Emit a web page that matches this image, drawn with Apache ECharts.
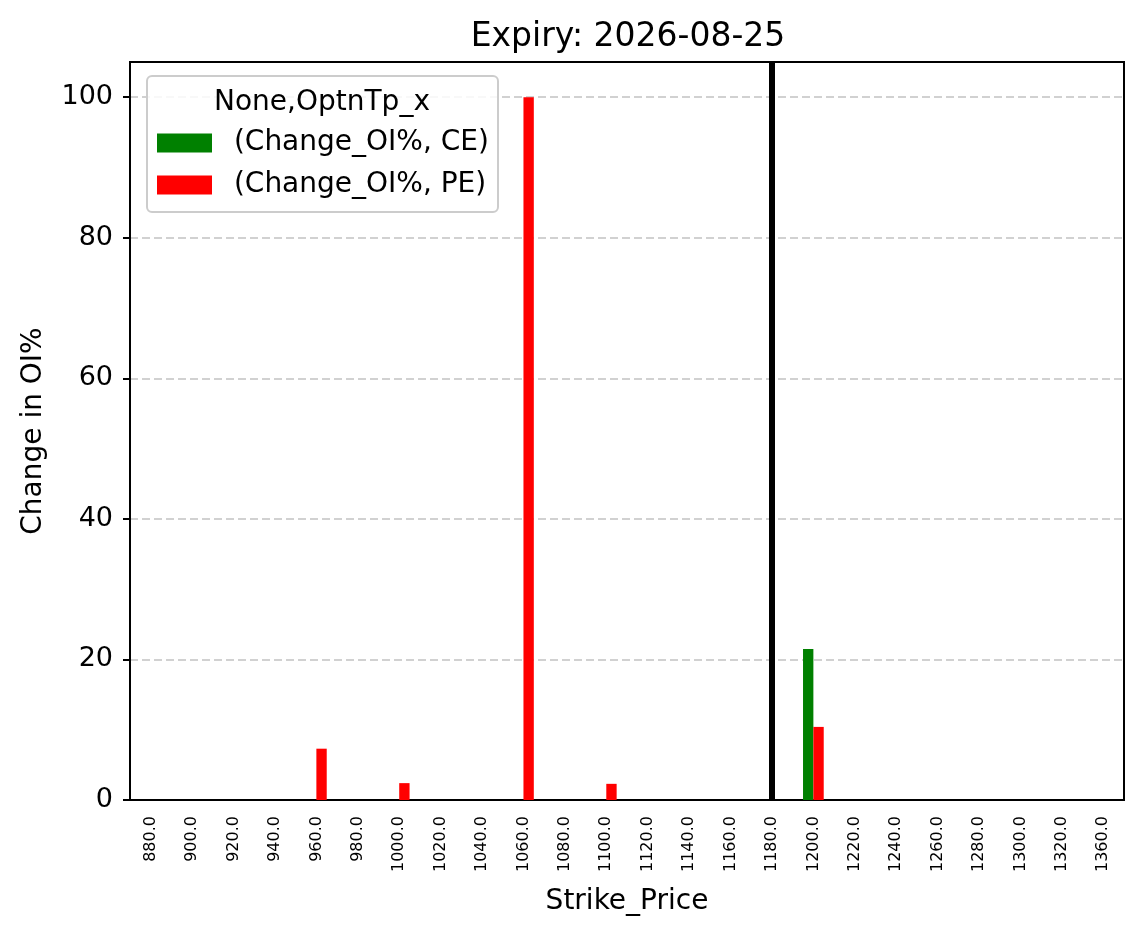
<!DOCTYPE html>
<html>
<head>
<meta charset="utf-8">
<title>Expiry: 2026-08-25</title>
<script src="https://cdn.jsdelivr.net/npm/echarts@6/dist/echarts.min.js"></script>
<style>
  html, body { margin: 0; padding: 0; background: #fff; }
  #chart { width: 1143px; height: 939px; }
</style>
</head>
<body>
<div id="chart"></div>
<script>
// strike prices on the x axis (1340 is not in the data)
var strikes = [880, 900, 920, 940, 960, 980, 1000, 1020, 1040, 1060, 1080, 1100,
               1120, 1140, 1160, 1180, 1200, 1220, 1240, 1260, 1280, 1300, 1320, 1360];
// Change_OI% per strike
var ceValues = [0, 0, 0, 0, 0, 0, 0, 0, 0, 0, 0, 0,
                0, 0, 0, 0, 21.5, 0, 0, 0, 0, 0, 0, 0];
var peValues = [0, 0, 0, 0, 7.3, 0, 2.4, 0, 0, 100, 0, 2.3,
                0, 0, 0, 0, 10.4, 0, 0, 0, 0, 0, 0, 0];
var yTicks = [0, 20, 40, 60, 80, 100];
var spotStrike = 1180;

var FONT = 'DejaVu Sans';
var categories = strikes.map(function (s) { return s.toFixed(1); });

var chart = echarts.init(document.getElementById('chart'), null, {renderer: 'canvas'});

var option = {
    backgroundColor: '#fff',
    animation: false,
    textStyle: {fontFamily: FONT, color: '#000'},
    title: {
        text: 'Expiry: 2026-08-25',
        left: 623,
        top: 16,
        textAlign: 'center',
        textStyle: {fontFamily: FONT, fontSize: 33, fontWeight: 'normal', color: '#000'}
    },
    grid: {
        left: 130, right: 19, top: 62, bottom: 139,
        show: true, borderColor: '#000', borderWidth: 2, backgroundColor: 'transparent'
    },
    legend: {
        orient: 'vertical',
        left: 157,
        top: 129,
        padding: 0,
        z: 200,
        itemWidth: 55,
        itemHeight: 19,
        itemGap: 14,
        icon: 'rect',
        selectedMode: false,
        textStyle: {fontFamily: FONT, fontSize: 28, color: '#000', lineHeight: 28, padding: [0, 0, 0, 8]},
        data: [' (Change_OI%, CE)', ' (Change_OI%, PE)'].map(function (n) { return {name: n}; })
    },
    graphic: [
        {
            type: 'rect', z: 100,
            shape: {x: 147, y: 76, width: 351, height: 136, r: 5},
            style: {fill: 'rgba(255,255,255,0.85)', stroke: '#cccccc', lineWidth: 2}
        },
        {
            type: 'text', z: 101,
            x: 322, y: 103,
            style: {
                text: 'None,OptnTp_x', fontFamily: FONT, fontSize: 28, fill: '#000',
                align: 'center', verticalAlign: 'middle'
            }
        }
    ],
    xAxis: {
        type: 'category',
        data: categories,
        boundaryGap: true,
        name: 'Strike_Price',
        nameLocation: 'middle',
        nameGap: 88,
        nameTextStyle: {fontFamily: FONT, fontSize: 28, color: '#000'},
        axisLine: {lineStyle: {color: '#000', width: 2}},
        axisTick: {alignWithLabel: true, length: 7, lineStyle: {color: '#000', width: 2}},
        axisLabel: {rotate: 90, fontFamily: FONT, fontSize: 16, color: '#000', margin: 16, interval: 0},
        splitLine: {show: false}
    },
    yAxis: {
        type: 'value',
        min: 0,
        max: 105,
        name: 'Change in OI%',
        nameLocation: 'middle',
        nameGap: 82,
        nameTextStyle: {fontFamily: FONT, fontSize: 28, color: '#000'},
        axisLine: {show: true, lineStyle: {color: '#000', width: 2}},
        axisTick: {show: true, length: 7, customValues: yTicks, lineStyle: {color: '#000', width: 2}},
        axisLabel: {fontFamily: FONT, fontSize: 27, color: '#000', margin: 17, customValues: yTicks},
        splitLine: {show: true, lineStyle: {color: '#c2c2c2', width: 1.6, type: [8, 4]}}
    },
    series: [
        {
            name: ' (Change_OI%, CE)',
            type: 'bar',
            data: ceValues,
            barWidth: '25%',
            barGap: '0%',
            itemStyle: {color: '#008000'}
        },
        {
            name: ' (Change_OI%, PE)',
            type: 'bar',
            data: peValues,
            barWidth: '25%',
            barGap: '0%',
            itemStyle: {color: '#ff0000'}
        },
        {
            // holds the spot strike marker so it sits on the category tick
            name: 'spot',
            type: 'line',
            data: [],
            markLine: {
                silent: true,
                symbol: ['none', 'none'],
                label: {show: false},
                lineStyle: {color: '#000', width: 6, type: 'solid'},
                data: [{xAxis: spotStrike.toFixed(1)}]
            }
        }
    ]
};

chart.setOption(option);
window.onresize = chart.resize;
</script>
</body>
</html>
